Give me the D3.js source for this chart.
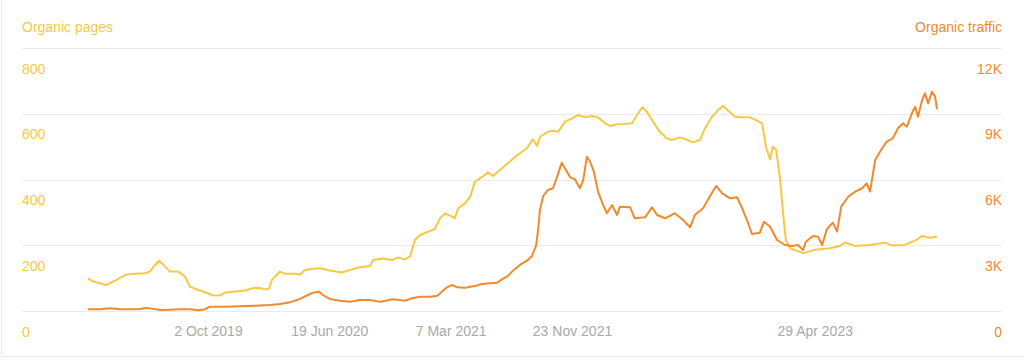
<!DOCTYPE html>
<html>
<head>
<meta charset="utf-8">
<script src="https://cdn.jsdelivr.net/npm/d3@7"></script>
<style>
  body { margin: 0; background: #fff; }
  svg text { font-family: "Liberation Sans", Arial, sans-serif; font-size: 14px; }
</style>
</head>
<body>
<script>
// Organic pages (left axis)
var pagesDates = ["2019-01-17","2019-01-26","2019-02-12","2019-02-25","2019-03-16","2019-04-07","2019-04-28","2019-05-20","2019-05-30","2019-06-10",
  "2019-06-19","2019-07-02","2019-07-12","2019-07-30","2019-08-14","2019-08-24","2019-09-11","2019-09-26","2019-10-11","2019-10-28",
  "2019-11-08","2019-11-29","2019-12-21","2020-01-05","2020-01-18","2020-02-02","2020-02-10","2020-02-17","2020-03-05","2020-03-16",
  "2020-04-06","2020-04-17","2020-04-28","2020-05-13","2020-05-30","2020-06-20","2020-07-16","2020-08-03","2020-08-24","2020-09-15",
  "2020-09-21","2020-10-12","2020-11-01","2020-11-14","2020-11-29","2020-12-10","2020-12-20","2020-12-31","2021-01-17","2021-02-01",
  "2021-02-12","2021-02-23","2021-03-10","2021-03-16","2021-03-23","2021-04-07","2021-04-18","2021-04-28","2021-05-13","2021-05-26",
  "2021-06-06","2021-06-21","2021-07-06","2021-07-23","2021-08-03","2021-08-18","2021-08-31","2021-09-09","2021-09-15","2021-10-02",
  "2021-10-13","2021-10-24","2021-11-08","2021-11-23","2021-12-06","2021-12-21","2022-01-05","2022-01-18","2022-02-02","2022-02-13",
  "2022-02-28","2022-03-17","2022-04-01","2022-04-12","2022-04-23","2022-05-03","2022-05-16","2022-05-31","2022-06-15","2022-06-26",
  "2022-07-13","2022-07-30","2022-08-10","2022-08-25","2022-09-05","2022-09-20","2022-10-03","2022-10-14","2022-10-25","2022-11-09",
  "2022-11-24","2022-12-11","2022-12-26","2023-01-06","2023-01-14","2023-01-23","2023-01-29","2023-02-05","2023-02-13","2023-02-20",
  "2023-02-26","2023-03-07","2023-03-22","2023-04-04","2023-04-30","2023-06-01","2023-06-22","2023-07-03","2023-07-25","2023-08-26",
  "2023-09-27","2023-10-14","2023-11-09","2023-12-01","2023-12-16","2024-01-02","2024-01-17"];
var pagesValues = [99,91,84,79,92,110,113,115,120,140,
  153,135,120,120,104,74,64,57,48,47,
  56,59,62,69,71,66,67,96,120,113,
  113,111,125,128,130,123,117,125,133,137,
  155,160,155,163,157,167,216,231,241,249,
  282,297,287,282,312,328,348,393,407,421,
  411,429,447,468,480,495,522,502,530,545,
  548,545,576,586,596,589,593,589,571,563,
  568,569,571,596,620,606,576,545,525,520,
  528,520,513,520,556,591,611,624,609,591,
  589,589,579,571,500,461,500,490,409,297,
  216,191,183,176,186,191,198,208,198,201,
  208,199,201,214,228,223,226];

// Organic traffic (right axis)
var trafficDates = ["2019-01-17","2019-02-12","2019-03-05","2019-03-27","2019-04-17","2019-05-09","2019-05-20","2019-05-30","2019-06-21","2019-07-12",
  "2019-08-03","2019-08-24","2019-09-11","2019-09-26","2019-10-06","2019-11-08","2019-12-10","2020-01-11","2020-02-12","2020-03-05",
  "2020-03-26","2020-04-17","2020-05-04","2020-05-15","2020-05-28","2020-06-05","2020-06-20","2020-07-12","2020-08-03","2020-08-24",
  "2020-09-15","2020-10-06","2020-10-17","2020-11-01","2020-11-18","2020-11-29","2020-12-14","2020-12-31","2021-01-22","2021-02-06",
  "2021-02-16","2021-02-27","2021-03-10","2021-03-21","2021-04-07","2021-04-28","2021-05-13","2021-05-31","2021-06-15","2021-06-25",
  "2021-07-08","2021-07-19","2021-08-03","2021-08-18","2021-08-29","2021-09-07","2021-09-11","2021-09-15","2021-09-22","2021-10-02",
  "2021-10-13","2021-10-22","2021-11-01","2021-11-10","2021-11-19","2021-11-29","2021-12-10","2021-12-17","2021-12-25","2022-01-01",
  "2022-01-09","2022-01-18","2022-01-29","2022-02-06","2022-02-17","2022-02-28","2022-03-06","2022-03-28","2022-04-07","2022-04-29",
  "2022-05-14","2022-05-25","2022-06-11","2022-07-02","2022-07-20","2022-08-04","2022-08-14","2022-09-01","2022-09-16","2022-09-29",
  "2022-10-12","2022-10-29","2022-11-13","2022-11-24","2022-12-06","2022-12-15","2023-01-01","2023-01-10","2023-01-23","2023-02-07",
  "2023-02-24","2023-03-11","2023-03-24","2023-04-04","2023-04-10","2023-04-25","2023-05-06","2023-05-15","2023-05-25","2023-06-07",
  "2023-06-16","2023-06-25","2023-07-10","2023-07-25","2023-08-09","2023-08-19","2023-08-26","2023-09-06","2023-09-21","2023-10-01",
  "2023-10-14","2023-10-25","2023-11-05","2023-11-13","2023-11-24","2023-12-01","2023-12-07","2023-12-16","2023-12-22","2023-12-29",
  "2024-01-06","2024-01-13","2024-01-17"];
var trafficValues = [80,80,120,80,80,90,140,120,45,60,
  80,80,30,80,195,195,215,240,275,320,
  395,550,730,835,880,730,550,470,425,500,
  500,425,455,535,500,470,580,650,650,700,
  880,1080,1185,1080,1065,1140,1230,1265,1290,1445,
  1595,1840,2100,2295,2510,3010,3695,4610,5245,5520,
  5600,6130,6770,6435,6100,6010,5600,5975,7040,6810,
  6355,5445,4835,4460,4835,4380,4760,4730,4230,4275,
  4730,4380,4230,4460,4150,3820,4380,4685,5245,5705,
  5370,5140,5190,4685,4060,3515,3575,4075,3845,3240,
  3010,2965,3010,2785,3160,3420,3390,3010,3730,4030,
  3620,4760,5215,5445,5600,5825,5445,6890,7425,7725,
  7880,8335,8565,8410,9020,9320,8865,9625,9935,9475,
  10005,9780,9205];

var xTickDates = ["2019-10-02","2020-06-19","2021-03-07","2021-11-23","2023-04-29"];
var pagesTicks = [0, 200, 400, 600, 800];
var trafficTicks = [0, 3000, 6000, 9000, 12000];
var trafficTickLabels = ["0", "3K", "6K", "9K", "12K"];

var parse = d3.timeParse("%Y-%m-%d");
var pages = pagesDates.map(function(d, i) { return { date: parse(d), value: pagesValues[i] }; });
var traffic = trafficDates.map(function(d, i) { return { date: parse(d), value: trafficValues[i] }; });

var w = 1024, h = 360;
var plotLeft = 22, plotRight = 1002, plotTop = 48, plotBottom = 311;
var yellow = "#f5c945", orange = "#ef8b2e", grey = "#a9a9a9";

var svg = d3.select("body").append("svg")
  .attr("width", w)
  .attr("height", h);

// card edges
svg.append("line").attr("x1", 1.5).attr("x2", 1.5).attr("y1", 0).attr("y2", 356)
  .style("stroke", "#e8e8e8");
svg.append("line").attr("x1", 1.5).attr("x2", w).attr("y1", 356.5).attr("y2", 356.5)
  .style("stroke", "#e8e8e8");

var x = d3.scaleTime()
  .domain([parse("2019-01-17"), parse("2024-01-17")])
  .range([88, 937]);

var yLeft = d3.scaleLinear().domain([0, 800]).range([plotBottom, plotTop]);
var yRight = d3.scaleLinear().domain([0, 12000]).range([plotBottom, plotTop]);

// gridlines
svg.append("g")
  .selectAll("line")
  .data(pagesTicks)
  .enter()
  .append("line")
  .attr("x1", plotLeft)
  .attr("x2", plotRight)
  .attr("y1", function(d) { return Math.round(yLeft(d)) + 0.5; })
  .attr("y2", function(d) { return Math.round(yLeft(d)) + 0.5; })
  .style("stroke", "#ebebeb")
  .style("stroke-width", 1);

// left axis labels (sit under each gridline)
var gl = svg.append("g")
  .attr("transform", "translate(" + plotLeft + ",0)")
  .call(d3.axisRight(yLeft).tickValues(pagesTicks).tickSize(0).tickPadding(0));
gl.select(".domain").remove();
gl.selectAll("text").attr("x", 0).attr("dy", 25).style("fill", yellow)
  .style("font-size", "14px").attr("text-anchor", "start");

// right axis labels
var gr = svg.append("g")
  .attr("transform", "translate(" + plotRight + ",0)")
  .call(d3.axisLeft(yRight).tickValues(trafficTicks).tickSize(0).tickPadding(0)
    .tickFormat(function(d, i) { return trafficTickLabels[i]; }));
gr.select(".domain").remove();
gr.selectAll("text").attr("x", 0).attr("dy", 25).style("fill", orange)
  .style("font-size", "14px").attr("text-anchor", "end");

// x axis labels
var gx = svg.append("g")
  .attr("transform", "translate(0," + plotBottom + ")")
  .call(d3.axisBottom(x).tickValues(xTickDates.map(parse)).tickSize(0).tickPadding(0)
    .tickFormat(d3.timeFormat("%-d %b %Y")));
gx.select(".domain").remove();
gx.selectAll("text").attr("y", 0).attr("dy", 25).style("fill", grey).style("font-size", "14px");

// titles
svg.append("text").attr("x", plotLeft).attr("y", 32).text("Organic pages")
  .style("fill", yellow);
svg.append("text").attr("x", plotRight).attr("y", 32).attr("text-anchor", "end").text("Organic traffic")
  .style("fill", orange);

var linePages = d3.line()
  .x(function(d) { return x(d.date); })
  .y(function(d) { return yLeft(d.value); });

var lineTraffic = d3.line()
  .x(function(d) { return x(d.date); })
  .y(function(d) { return yRight(d.value); });

svg.append("path")
  .datum(pages)
  .attr("d", linePages)
  .style("fill", "none")
  .style("stroke", yellow)
  .style("stroke-width", 2)
  .style("stroke-linejoin", "round");

svg.append("path")
  .datum(traffic)
  .attr("d", lineTraffic)
  .style("fill", "none")
  .style("stroke", orange)
  .style("stroke-width", 2)
  .style("stroke-linejoin", "round");
</script>
</body>
</html>
